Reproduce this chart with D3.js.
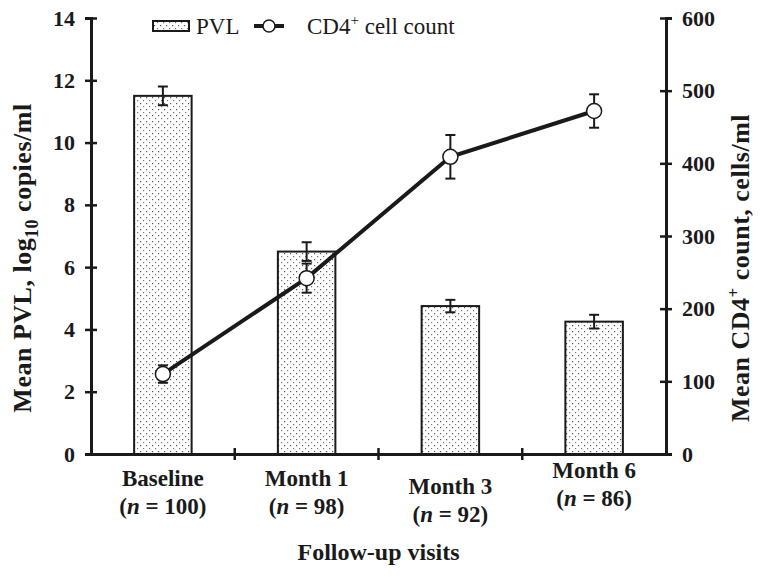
<!DOCTYPE html>
<html>
<head>
<meta charset="utf-8">
<script src="https://cdn.jsdelivr.net/npm/d3@7"></script>
<style>
  body { margin: 0; background: #fff; }
  text { font-family: "Liberation Serif", "Times New Roman", serif; fill: #1a1a1a; }
</style>
</head>
<body>
<div id="chart"></div>
<script>
// data
const visits = ["Baseline", "Month 1", "Month 3", "Month 6"];
const nLabels = ["100", "98", "92", "86"];
const pvl = [11.5, 6.5, 4.75, 4.25];
const pvlErr = [0.3, 0.3, 0.2, 0.22];
const cd4 = [110, 242, 409, 472];
const cd4Err = [12, 20, 30, 23];
const leftTicks = [0, 2, 4, 6, 8, 10, 12, 14];
const rightTicks = [0, 100, 200, 300, 400, 500, 600];
const labelShift = [0, 0, 8, -8]; // staggered x labels like in the original

let width = 764, height = 577;
let m = {left: 91, right: 98, top: 18, bottom: 123};
let iw = width - m.left - m.right, ih = height - m.top - m.bottom;

let svg = d3.select("#chart").append("svg")
    .attr("width", width).attr("height", height);

// dotted fill
let pat = svg.append("defs").append("pattern")
    .attr("id", "dots").attr("patternUnits", "userSpaceOnUse")
    .attr("width", 6).attr("height", 6);
pat.append("rect").attr("width", 6).attr("height", 6).attr("fill", "#fff");
pat.append("rect").attr("x", 1).attr("y", 1).attr("width", 1.2).attr("height", 1.2).attr("fill", "#555");
pat.append("rect").attr("x", 4).attr("y", 4).attr("width", 1.2).attr("height", 1.2).attr("fill", "#777");

let g = svg.append("g").attr("transform", "translate(" + m.left + "," + m.top + ")");

let x = d3.scaleBand().domain(visits).range([0, iw]).paddingInner(0.6).paddingOuter(0.3);
let xb = d3.scaleBand().domain(visits).range([0, iw]);
let yL = d3.scaleLinear().domain([0, 14]).range([ih, 0]);
let yR = d3.scaleLinear().domain([0, 600]).range([ih, 0]);

// bars
g.selectAll("rect.bar").data(visits).enter().append("rect")
    .attr("class", "bar")
    .attr("x", d => xb(d) + xb.bandwidth() / 2 - x.bandwidth() / 2)
    .attr("width", x.bandwidth())
    .attr("y", (d, i) => yL(pvl[i]))
    .attr("height", (d, i) => ih - yL(pvl[i]))
    .attr("fill", "url(#dots)").attr("stroke", "#1a1a1a").attr("stroke-width", 2);

function errBars(vals, errs, y) {
  let e = g.append("g").attr("stroke", "#1a1a1a").attr("stroke-width", 2);
  visits.forEach((d, i) => {
    let cx = xb(d) + xb.bandwidth() / 2;
    e.append("line").attr("x1", cx).attr("x2", cx)
      .attr("y1", y(vals[i] + errs[i])).attr("y2", y(vals[i] - errs[i]));
    [vals[i] + errs[i], vals[i] - errs[i]].forEach(v => {
      e.append("line").attr("x1", cx - 5).attr("x2", cx + 5)
        .attr("y1", y(v)).attr("y2", y(v));
    });
  });
}
errBars(pvl, pvlErr, yL);
errBars(cd4, cd4Err, yR);

// CD4 line
let line = d3.line().x((d, i) => xb(visits[i]) + xb.bandwidth() / 2).y(d => yR(d));
g.append("path").datum(cd4).attr("d", line)
    .attr("fill", "none").attr("stroke", "#1a1a1a").attr("stroke-width", 4);
g.selectAll("circle.pt").data(cd4).enter().append("circle")
    .attr("cx", (d, i) => xb(visits[i]) + xb.bandwidth() / 2)
    .attr("cy", d => yR(d)).attr("r", 7.5)
    .attr("fill", "#fff").attr("stroke", "#1a1a1a").attr("stroke-width", 1.5);

// axes
let axL = g.append("g").call(d3.axisLeft(yL).tickValues(leftTicks).tickSize(6).tickPadding(10));
let axR = g.append("g").attr("transform", "translate(" + iw + ",0)")
    .call(d3.axisRight(yR).tickValues(rightTicks).tickSize(6).tickPadding(10));
let axB = g.append("g").attr("transform", "translate(0," + ih + ")")
    .call(d3.axisBottom(xb).tickSize(0).tickFormat(""));

[axL, axR, axB].forEach(a => {
  a.select(".domain").attr("stroke", "#1a1a1a").attr("stroke-width", 3);
  a.selectAll(".tick line").attr("stroke", "#1a1a1a").attr("stroke-width", 2.5);
  a.selectAll(".tick text").style("font-size", "22px").style("font-weight", "bold")
    .style("font-family", "Liberation Serif").attr("fill", "#1a1a1a");
});
axL.selectAll(".tick line").attr("x1", 6);
axR.selectAll(".tick line").attr("x1", -6);
// category separator ticks on x axis
axB.selectAll("line.sep").data(visits.slice(1)).enter().append("line")
    .attr("class", "sep")
    .attr("x1", d => xb(d)).attr("x2", d => xb(d))
    .attr("y1", -6).attr("y2", 6)
    .attr("stroke", "#1a1a1a").attr("stroke-width", 2.5);

// x labels
visits.forEach((d, i) => {
  let cx = xb(d) + xb.bandwidth() / 2;
  g.append("text").attr("x", cx).attr("y", ih + 32 + labelShift[i])
    .attr("text-anchor", "middle").style("font-size", "23px").style("font-weight", "bold")
    .text(d);
  let t = g.append("text").attr("x", cx).attr("y", ih + 60 + labelShift[i])
    .attr("text-anchor", "middle").style("font-size", "23px").style("font-weight", "bold");
  t.append("tspan").text("(");
  t.append("tspan").style("font-style", "italic").text("n");
  t.append("tspan").text(" = " + nLabels[i] + ")");
});

g.append("text").attr("x", iw / 2).attr("y", ih + 106)
    .attr("text-anchor", "middle").style("font-size", "24px").style("font-weight", "bold")
    .text("Follow-up visits");

// axis titles
let tl = svg.append("text")
    .attr("transform", "translate(31," + 258 + ") rotate(-90)")
    .attr("text-anchor", "middle").style("font-size", "26px").style("font-weight", "bold")
    .style("letter-spacing", "0.5px");
tl.append("tspan").text("Mean PVL, log");
tl.append("tspan").attr("dy", 7).style("font-size", "18px").text("10");
tl.append("tspan").attr("dy", -7).text(" copies/ml");

let tr = svg.append("text")
    .attr("transform", "translate(749," + 268 + ") rotate(-90)")
    .attr("text-anchor", "middle").style("font-size", "26px").style("font-weight", "bold")
    .style("letter-spacing", "0.5px");
tr.append("tspan").text("Mean CD4");
tr.append("tspan").attr("dy", -10).style("font-size", "17px").text("+");
tr.append("tspan").attr("dy", 10).text(" count, cells/ml");

// legend
let lg = svg.append("g").attr("transform", "translate(153,18)");
lg.append("rect").attr("x", 0).attr("y", 3).attr("width", 36).attr("height", 10)
    .attr("fill", "url(#dots)").attr("stroke", "#1a1a1a").attr("stroke-width", 2);
lg.append("text").attr("x", 43).attr("y", 16).style("font-size", "23px").text("PVL");
lg.append("line").attr("x1", 101).attr("x2", 131).attr("y1", 8).attr("y2", 8)
    .attr("stroke", "#1a1a1a").attr("stroke-width", 4);
lg.append("circle").attr("cx", 116).attr("cy", 8).attr("r", 6)
    .attr("fill", "#fff").attr("stroke", "#1a1a1a").attr("stroke-width", 1.5);
let lt = lg.append("text").attr("x", 154).attr("y", 16).style("font-size", "23px");
lt.append("tspan").text("CD4");
lt.append("tspan").attr("dy", -9).style("font-size", "15px").text("+");
lt.append("tspan").attr("dy", 9).text(" cell count");
</script>
</body>
</html>
